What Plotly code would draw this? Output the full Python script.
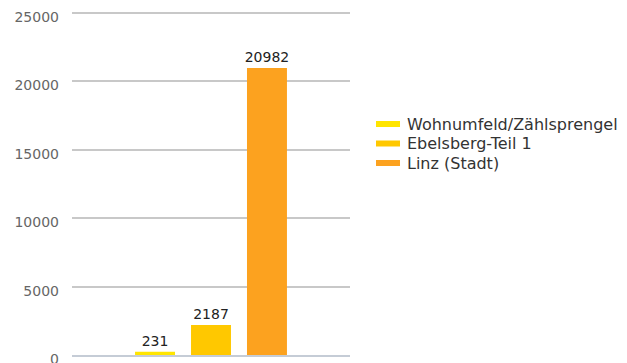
import plotly.graph_objects as go

# Population figures
series = ["Wohnumfeld/Zählsprengel", "Ebelsberg-Teil 1", "Linz (Stadt)"]
values = [231, 2187, 20982]
colors = ["#FFE500", "#FFC800", "#FCA21F"]
y_ticks = [0, 5000, 10000, 15000, 20000, 25000]

W, H = 627, 363
L, R, T, B = 72, 277, 10, 8
plot_w = W - L - R
plot_h = H - T - B

fig = go.Figure()
for name, val, col in zip(series, values, colors):
    fig.add_trace(go.Bar(
        x=[""], y=[val], name=name, marker_color=col, marker_line_width=0,
        text=[str(val)], textposition="outside", cliponaxis=False,
        constraintext="none",
        textfont=dict(family="DejaVu Sans", size=14, color="#222222"),
        showlegend=False,
    ))

# Custom legend: short colour bars with labels (pixel rows converted to paper coords)
leg_x0 = 376
leg_rows = [124, 143.5, 163]
for name, col, yy in zip(series, colors, leg_rows):
    fig.add_shape(type="rect", xref="paper", yref="paper",
                  x0=(leg_x0 - L) / plot_w, x1=(leg_x0 + 24 - L) / plot_w,
                  y0=(H - B - yy - 3) / plot_h, y1=(H - B - yy + 3) / plot_h,
                  fillcolor=col, line_width=0)
    fig.add_annotation(text=name, xref="paper", yref="paper",
                       x=(leg_x0 + 29 - L) / plot_w, y=(H - B - yy) / plot_h,
                       xanchor="left", yanchor="middle", showarrow=False,
                       font=dict(family="DejaVu Sans", size=16, color="#333333"))

fig.update_layout(
    width=W, height=H,
    margin=dict(l=L, r=R, t=T, b=B, autoexpand=False),
    paper_bgcolor="white", plot_bgcolor="white",
    barmode="group", bargap=0.396, bargroupgap=0.286,
    font=dict(family="DejaVu Sans"),
    showlegend=False,
    xaxis=dict(showticklabels=False, showgrid=False, zeroline=False,
               showline=True, linecolor="#C5CCD6", linewidth=2,
               automargin=False),
    yaxis=dict(range=[0, 25220], tickvals=y_ticks, tickformat="d",
               showgrid=True, gridcolor="#C8C8C8", gridwidth=1.5,
               zeroline=False, automargin=False,
               ticks="", ticklabelstandoff=12, ticklabelshift=4,
               ticklabeloverflow="allow",
               tickfont=dict(family="DejaVu Sans", size=14, color="#666666")),
)

fig.write_html("out.html")
